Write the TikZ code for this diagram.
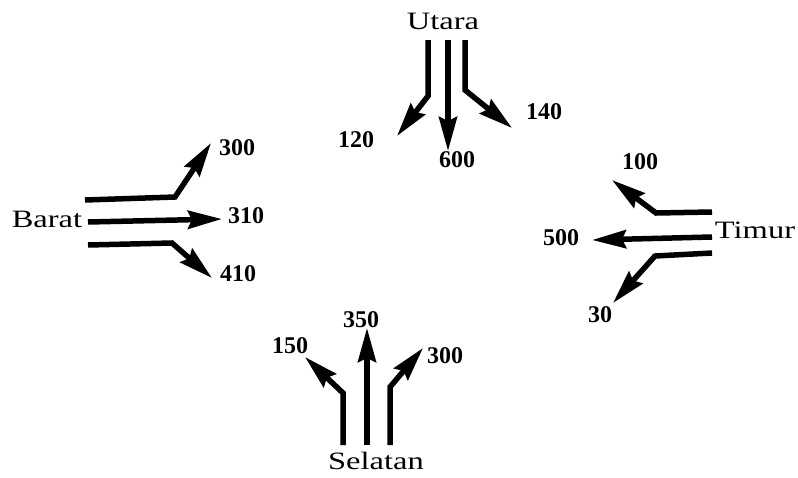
\documentclass[tikz,border=0pt]{standalone}
\usepackage{fontspec}
\setmainfont{Liberation Serif}
\usetikzlibrary{arrows.meta}

\begin{document}
\begin{tikzpicture}[x=1pt,y=-1pt,
  flow/.style={line width=5.5pt,-{Stealth[length=34pt,width=18pt,inset=4pt]}},
  arah/.style={font=\fontsize{25}{25}\selectfont,xscale=1.3,inner sep=0pt},
  jumlah/.style={font=\fontsize{24}{24}\selectfont\bfseries,inner sep=0pt}]
\useasboundingbox (0,0) rectangle (798,477);

\node[arah] (utara) at (443,21) {Utara};
\node[arah] (barat) at (47,219) {Barat};
\node[arah] (timur) at (755,230) {Timur};
\node[arah] (selatan) at (376,461) {Selatan};

\node[jumlah] (u120) at (356,140) {120};
\node[jumlah] (u600) at (457,160) {600};
\node[jumlah] (u140) at (544,112) {140};
\node[jumlah] (b300) at (237,148) {300};
\node[jumlah] (b310) at (246,216) {310};
\node[jumlah] (b410) at (238,274) {410};
\node[jumlah] (t100) at (640,162) {100};
\node[jumlah] (t500) at (561,238) {500};
\node[jumlah] (t30) at (600,315) {30};
\node[jumlah] (s150) at (290,346) {150};
\node[jumlah] (s350) at (361,320) {350};
\node[jumlah] (s300) at (445,356) {300};

\coordinate (ua1) at (428,40); \coordinate (ub1) at (428,96); \coordinate (uc1) at (397,136);
\coordinate (ua2) at (448,40); \coordinate (uc2) at (448,151);
\coordinate (ua3) at (465,40); \coordinate (ub3) at (465,90); \coordinate (uc3) at (512,128);

\coordinate (ba1) at (85,200); \coordinate (bb1) at (175,197); \coordinate (bc1) at (211,143);
\coordinate (ba2) at (88,222); \coordinate (bc2) at (222,219);
\coordinate (ba3) at (88,245); \coordinate (bb3) at (172,243); \coordinate (bc3) at (212,278);

\coordinate (ta1) at (712,212); \coordinate (tb1) at (656,213); \coordinate (tc1) at (612,180);
\coordinate (ta2) at (712,237); \coordinate (tc2) at (592,240);
\coordinate (ta3) at (712,253); \coordinate (tb3) at (655,256); \coordinate (tc3) at (613,303);

\coordinate (sa1) at (343,445); \coordinate (sb1) at (343,393); \coordinate (sc1) at (305,357);
\coordinate (sa2) at (367,445); \coordinate (sc2) at (367,328);
\coordinate (sa3) at (390,445); \coordinate (sb3) at (390,387); \coordinate (sc3) at (423,348);

\draw[flow] (ua1) -- (ub1) -- (uc1);
\draw[flow] (ua2) -- (uc2);
\draw[flow] (ua3) -- (ub3) -- (uc3);

\draw[flow] (ba1) -- (bb1) -- (bc1);
\draw[flow] (ba2) -- (bc2);
\draw[flow] (ba3) -- (bb3) -- (bc3);

\draw[flow] (ta1) -- (tb1) -- (tc1);
\draw[flow] (ta2) -- (tc2);
\draw[flow] (ta3) -- (tb3) -- (tc3);

\draw[flow] (sa1) -- (sb1) -- (sc1);
\draw[flow] (sa2) -- (sc2);
\draw[flow] (sa3) -- (sb3) -- (sc3);

\end{tikzpicture}
\end{document}
